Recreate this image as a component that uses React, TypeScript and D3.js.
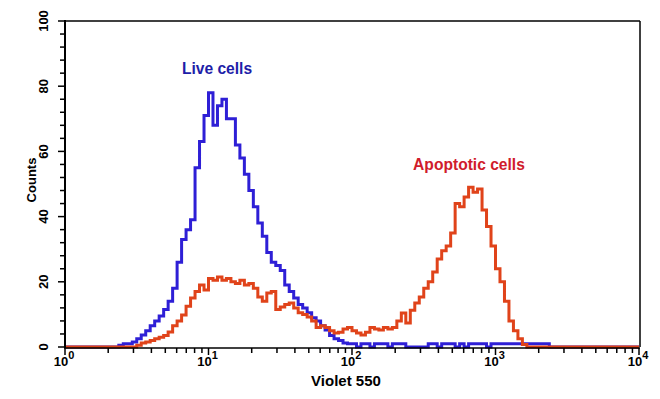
import React from "react";
import * as d3 from "d3";

const binsPerDecade = 32;
const decades = [0, 1, 2, 3, 4];
const yTicks = [0, 20, 40, 60, 80, 100];
const xLabel = "Violet 550";
const yLabel = "Counts";

// Live cells (blue), counts starting at bin 12
const liveStart = 12;
const liveCounts = [
  0.5, 1, 1, 1.5, 2.5, 3.7, 5, 6.5, 8, 9.5, 11.5, 14, 18, 26, 33, 36, 39, 55, 63, 71,
  78, 68, 74, 76, 70, 70, 62, 58, 53, 48, 43, 38, 34, 29, 26, 25, 23.5, 19, 17, 15,
  13, 12, 10.5, 9, 8, 6.5, 5.2, 3.5, 2.5, 2, 1.2,
  1, 1, 0, 1, 1, 0, 1, 1, 1, 0, 1, 1, 1,
  0, 0, 0, 0, 0,
  1, 1, 0, 1, 1, 1, 0, 1, 0, 1, 1, 1, 1, 0, 1, 1, 1, 1, 1, 1, 1, 1, 1, 1, 1, 1, 1,
];

// Apoptotic cells (red), counts starting at bin 16
const apoStart = 16;
const apoCounts = [
  0.5, 1.2, 1.5, 2, 2.5, 3, 3.5, 4.6, 6.5, 8, 9.8, 12.5, 15, 17, 19, 17.5, 21, 20.5, 21.5, 20.5,
  21, 20, 19.5, 20.5, 19, 19.5, 18, 15.3, 14, 16.6, 17, 11.5, 12.3, 13, 13.5, 12, 10.5, 10, 9.2, 8,
  6, 6.5, 6, 5, 4.3, 4.5, 5.5, 6, 5, 4.3, 3.7, 4.5, 6, 5.5, 5.2, 6, 5.5, 6, 8, 10.4,
  7.4, 11.3, 13.5, 15.3, 18, 20, 23, 27, 29.5, 31, 35, 44, 43, 46, 49, 47.5, 48.5, 42, 37, 31,
  24, 20, 14, 8, 5, 2.5, 0.8,
];

const W = 660;
const H = 399;
const left = 65;
const right = 639;
const top = 21;
const bottom = 347;

const nBins = binsPerDecade * 4;

function fullSeries(start: number, vals: number[]) {
  const arr = new Array(nBins).fill(0);
  vals.forEach((v, i) => {
    arr[start + i] = v;
  });
  return arr;
}

export default function App() {
  const x = d3.scaleLog().domain([1, 10000]).range([left, right]);
  const y = d3.scaleLinear().domain([0, 100]).range([bottom, top]);

  const edge = (i: number) => Math.pow(10, i / binsPerDecade);
  const toPts = (arr: number[]) => {
    const pts: [number, number][] = arr.map((v, i) => [edge(i), v]);
    pts.push([edge(nBins), arr[nBins - 1]]);
    return pts;
  };
  const line = d3
    .line<[number, number]>()
    .x((d) => x(d[0]))
    .y((d) => y(d[1]))
    .curve(d3.curveStepAfter);

  const live = line(toPts(fullSeries(liveStart, liveCounts))) || "";
  const apo = line(toPts(fullSeries(apoStart, apoCounts))) || "";

  const minorX: number[] = [];
  for (let d = 0; d < 4; d++) {
    for (let m = 2; m <= 9; m++) minorX.push(m * Math.pow(10, d));
  }
  const minorY: number[] = [];
  for (let v = 0; v <= 100; v += 4) if (v % 20 !== 0) minorY.push(v);

  const font = "'Liberation Sans', Arial, sans-serif";

  return (
    <svg
      width={W}
      height={H}
      style={{ position: "absolute", left: 0, top: 0, background: "#fff" }}
      fontFamily={font}
    >
      <rect x={0} y={0} width={W} height={H} fill="#fff" />
      {/* frame top/right */}
      <line x1={left} x2={right + 1} y1={top} y2={top} stroke="#000" strokeWidth={1.5} />
      <line x1={right + 1} x2={right + 1} y1={top} y2={bottom} stroke="#000" strokeWidth={1.5} />

      {/* curves */}
      <path d={live} fill="none" stroke="#2e1fd6" strokeWidth={3} strokeLinejoin="miter" />
      <path d={apo} fill="none" stroke="#e0431a" strokeWidth={3} strokeLinejoin="miter" />

      {/* axes */}
      <line x1={left} x2={left} y1={top - 1} y2={bottom + 1} stroke="#000" strokeWidth={2} />
      <line x1={left - 1} x2={right + 1} y1={bottom + 1} y2={bottom + 1} stroke="#000" strokeWidth={1.5} />

      {/* y ticks */}
      {yTicks.map((t) => (
        <g key={"yt" + t}>
          <line x1={left - 7} x2={left} y1={y(t)} y2={y(t)} stroke="#000" strokeWidth={1.5} />
          <text
            transform={`translate(48,${y(t)}) rotate(-90)`}
            textAnchor="middle"
            fontSize={13}
            fontWeight="bold"
            fill="#000"
          >
            {t}
          </text>
        </g>
      ))}
      {minorY.map((t) => (
        <line key={"ym" + t} x1={left - 5} x2={left} y1={y(t)} y2={y(t)} stroke="#000" strokeWidth={1.5} />
      ))}

      {/* x ticks */}
      {decades.map((d) => (
        <g key={"xt" + d}>
          <line
            x1={x(Math.pow(10, d))}
            x2={x(Math.pow(10, d))}
            y1={bottom + 1}
            y2={bottom + 8}
            stroke="#000"
            strokeWidth={1.5}
          />
          <text x={x(Math.pow(10, d)) - 1} y={366} textAnchor="middle" fontSize={13} fontWeight="bold" fill="#000">
            10
            <tspan dy={-7} fontSize={11}>
              {d}
            </tspan>
          </text>
        </g>
      ))}
      {minorX.map((v, i) => (
        <line key={"xm" + i} x1={x(v)} x2={x(v)} y1={bottom + 1} y2={bottom + 6} stroke="#000" strokeWidth={1.5} />
      ))}

      {/* axis labels */}
      <text x={346} y={386} textAnchor="middle" fontSize={15} fontWeight="bold" fill="#000">
        {xLabel}
      </text>
      <text transform="translate(36,180) rotate(-90)" textAnchor="middle" fontSize={13} fontWeight="bold" fill="#000">
        {yLabel}
      </text>

      {/* series labels */}
      <text x={217} y={74} textAnchor="middle" fontSize={15.6} fontWeight="bold" fill="#1e1ea8">
        Live cells
      </text>
      <text x={469} y={170} textAnchor="middle" fontSize={15.6} fontWeight="bold" fill="#d01c2c">
        Apoptotic cells
      </text>
    </svg>
  );
}
